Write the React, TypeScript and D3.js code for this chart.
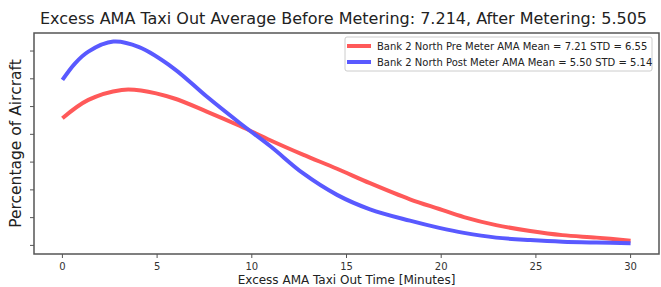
import React from "react";
import * as d3 from "d3";

// Fitted density curves (x in minutes, y as fraction)
const preX = [0, 1.37, 3.13, 4.15, 5.87, 7.62, 9.38, 11, 12.7, 14.5, 16.24, 18.35, 19.9, 21.2, 22.9, 24.7, 26.4, 28.2, 30];
const preY = [0.0458, 0.0524, 0.056, 0.0558, 0.053, 0.0482, 0.043, 0.0378, 0.0327, 0.0276, 0.0224, 0.0166, 0.0131, 0.0102, 0.0073, 0.0052, 0.0037, 0.0028, 0.0017];

const postX = [0, 0.67, 1.37, 2.69, 4.05, 5.87, 7.62, 9.38, 11, 12.7, 14.5, 16.24, 18.35, 19.9, 21.2, 22.9, 24.7, 26.4, 28.2, 30];
const postY = [0.0596, 0.0656, 0.0698, 0.0734, 0.0714, 0.0638, 0.0536, 0.044, 0.0356, 0.026, 0.0182, 0.013, 0.0089, 0.0063, 0.0045, 0.0028, 0.0019, 0.0013, 0.001, 0.0008];

const xTicks = [0, 5, 10, 15, 20, 25, 30];
const yTicks = [0, 0.01, 0.02, 0.03, 0.04, 0.05, 0.06, 0.07];

const seriesLabels = [
  "Bank 2 North Pre Meter AMA Mean = 7.21 STD = 6.55",
  "Bank 2 North Post Meter AMA Mean = 5.50 STD = 5.14",
];
const seriesColors = ["#ff5959", "#5959ff"];

const title = "Excess AMA Taxi Out Average Before Metering: 7.214, After Metering: 5.505";

const App = () => {
  const width = 661;
  const height = 287;
  const margin = { top: 33, right: 2, bottom: 33, left: 34 };
  const font = "DejaVu Sans, sans-serif";

  const x = d3.scaleLinear().domain([-1.5, 31.5]).range([margin.left, width - margin.right]);
  const y = d3.scaleLinear().domain([-0.0031, 0.0765]).range([height - margin.bottom, margin.top]);

  const line = d3
    .line<[number, number]>()
    .x((d) => x(d[0]))
    .y((d) => y(d[1]))
    .curve(d3.curveCatmullRom.alpha(0.5));

  const pre = preX.map((v, i) => [v, preY[i]] as [number, number]);
  const post = postX.map((v, i) => [v, postY[i]] as [number, number]);

  const x0 = margin.left;
  const x1 = width - margin.right;
  const y0 = height - margin.bottom;
  const y1 = margin.top;

  return (
    <svg
      width={width}
      height={height}
      style={{ position: "absolute", left: 0, top: 0, background: "#fff" }}
      fontFamily={font}
    >
      <text x={(x0 + x1) / 2 - 3} y={24} textAnchor="middle" fontSize={16} fill="#222">
        {title}
      </text>

      {/* curves */}
      <path d={line(pre) || ""} fill="none" stroke={seriesColors[0]} strokeWidth={4} />
      <path d={line(post) || ""} fill="none" stroke={seriesColors[1]} strokeWidth={4} />

      {/* frame */}
      <rect x={x0} y={y1} width={x1 - x0} height={y0 - y1} fill="none" stroke="#555" strokeWidth={1.5} />

      {/* x axis */}
      {xTicks.map((t) => (
        <g key={t} transform={`translate(${x(t)},${y0})`}>
          <line y2={4} stroke="#555" />
          <text y={16} textAnchor="middle" fontSize={10} fill="#333">
            {t}
          </text>
        </g>
      ))}
      <text x={(x0 + x1) / 2} y={284} textAnchor="middle" fontSize={12} fill="#222">
        Excess AMA Taxi Out Time [Minutes]
      </text>

      {/* y axis, ticks without labels */}
      {yTicks.map((t) => (
        <line key={t} x1={x0} x2={x0 - 4} y1={y(t)} y2={y(t)} stroke="#555" />
      ))}
      <text
        transform={`translate(21,${(y0 + y1) / 2}) rotate(-90)`}
        textAnchor="middle"
        fontSize={15.5}
        fill="#222"
      >
        Percentage of Aircraft
      </text>

      {/* legend */}
      <rect x={345} y={37} width={307} height={34} rx={2} fill="#fff" stroke="#ccc" />
      {seriesLabels.map((s, i) => (
        <g key={s} transform={`translate(347,${46 + i * 16})`}>
          <line x1={0} x2={24} stroke={seriesColors[i]} strokeWidth={4} />
          <text x={30} y={4} fontSize={10} fill="#222">
            {s}
          </text>
        </g>
      ))}
    </svg>
  );
};

export default App;
